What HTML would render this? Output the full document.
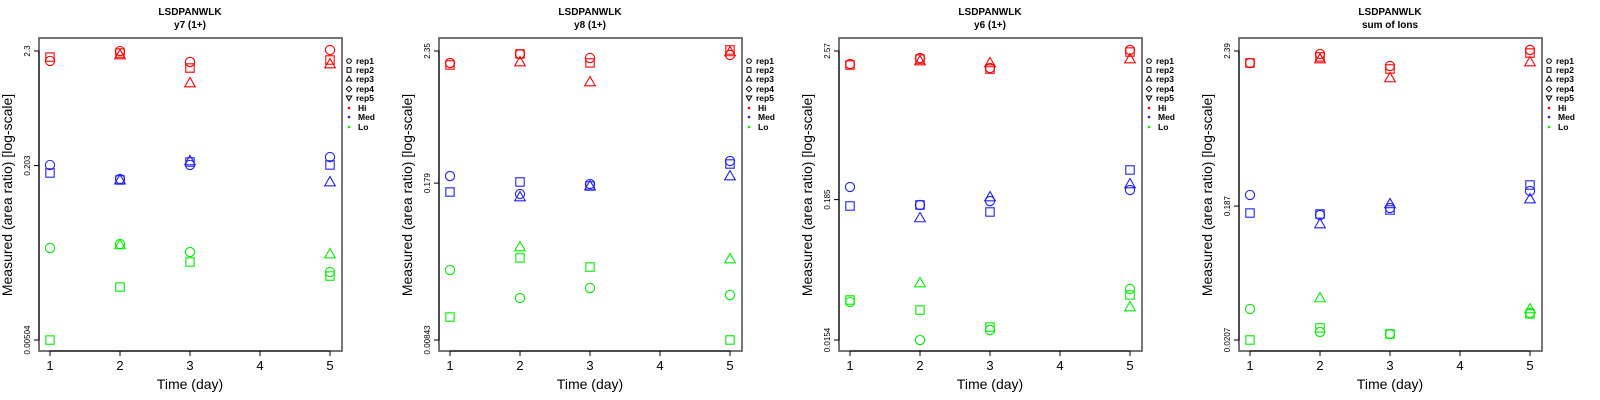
<!DOCTYPE html>
<html><head><meta charset="utf-8">
<style>
html,body{margin:0;padding:0;background:#fff;}
svg{display:block;font-family:"Liberation Sans",Arial,sans-serif;}
</style></head>
<body>
<svg id="chart" width="1600" height="400" viewBox="0 0 1600 400"></svg>
<script>
// Shared categories
const days = [1, 2, 3, 5];
const xTicks = [1, 2, 3, 4, 5];
const groups = ["Hi", "Med", "Lo"];
const reps = ["rep1", "rep2", "rep3"];
const legendLabels = ["rep1", "rep2", "rep3", "rep4", "rep5", "Hi", "Med", "Lo"];
const panelTitles = ["y7 (1+)", "y8 (1+)", "y6 (1+)", "sum of Ions"];
const yTickLabels = [["2.3", "0.203", "0.00504"], ["2.35", "0.179", "0.00843"], ["2.57", "0.185", "0.0154"], ["2.39", "0.187", "0.0207"]];
const yTickValues = [[2.3, 0.203, 0.00504], [2.35, 0.179, 0.00843], [2.57, 0.185, 0.0154], [2.39, 0.187, 0.0207]];
// log10(measured area ratio); per panel: [group][rep][day]
const p1Hi  = [[0.270, 0.362, 0.261, 0.371], [0.306, 0.343, 0.205, 0.279], [null, 0.325, 0.067, 0.242]];
const p1Med = [[-0.687, -0.816, -0.687, -0.614], [-0.761, -0.825, -0.660, -0.687], [null, -0.825, -0.650, -0.844]];
const p1Lo  = [[-1.451, -1.414, -1.488, -1.672], [-2.298, -1.810, -1.580, -1.709], [null, -1.423, null, -1.506]];
const p2Hi  = [[0.270, 0.346, 0.312, 0.337], [0.253, 0.346, 0.270, 0.380], [null, 0.278, 0.109, 0.363]];
const p2Med = [[-0.687, -0.839, -0.754, -0.560], [-0.822, -0.737, -0.771, -0.585], [null, -0.864, -0.771, -0.687]];
const p2Lo  = [[-1.482, -1.719, -1.634, -1.694], [-1.880, -1.380, -1.457, -2.074], [null, -1.287, null, -1.389]];
const p3Hi  = [[0.310, 0.356, 0.279, 0.418], [0.302, 0.348, 0.271, 0.402], [null, 0.333, 0.318, 0.348]];
const p3Med = [[-0.636, -0.774, -0.744, -0.659], [-0.782, -0.774, -0.828, -0.505], [null, -0.874, -0.713, -0.613]];
const p3Lo  = [[-1.520, -1.813, -1.736, -1.420], [-1.505, -1.582, -1.713, -1.466], [null, -1.374, null, -1.559]];
const p4Hi  = [[0.293, 0.357, 0.271, 0.386], [0.293, 0.336, 0.250, 0.364], [null, 0.321, 0.186, 0.300]];
const p4Med = [[-0.649, -0.792, -0.742, -0.621], [-0.778, -0.785, -0.756, -0.578], [null, -0.856, -0.713, -0.678]];
const p4Lo  = [[-1.463, -1.627, -1.641, -1.491], [-1.684, -1.598, -1.641, -1.498], [null, -1.384, null, -1.463]];
const panels = [[p1Hi, p1Med, p1Lo], [p2Hi, p2Med, p2Lo], [p3Hi, p3Med, p3Lo], [p4Hi, p4Med, p4Lo]];

const colors = {Hi: "#ff0000", Med: "#2020ff", Lo: "#00ee00"};
const NS = "http://www.w3.org/2000/svg";
const svg = document.getElementById("chart");
function mk(tag, attrs, parent) {
  const e = document.createElementNS(NS, tag);
  for (const k in attrs) e.setAttribute(k, attrs[k]);
  (parent || svg).appendChild(e);
  return e;
}
function marker(g, shape, cx, cy, col) {
  const r = 4.6;
  let e;
  if (shape === 0) e = mk("circle", {cx: cx, cy: cy, r: r, fill: "none", stroke: col, "stroke-width": 1.1}, g);
  else if (shape === 1) e = mk("rect", {x: cx - 4.2, y: cy - 4.2, width: 8.4, height: 8.4, fill: "none", stroke: col, "stroke-width": 1.1}, g);
  else e = mk("polygon", {points: `${cx},${cy - 5.5} ${cx - 5.3},${cy + 3.8} ${cx + 5.3},${cy + 3.8}`, fill: "none", stroke: col, "stroke-width": 1.1}, g);
  return e;
}

panels.forEach((pdata, pi) => {
  const ox = pi * 400;
  const g = mk("g", {transform: `translate(${ox},0)`});
  
  
  const L = 39, R = 342, T = 38, B = 351;
  const topV = Math.log10(yTickValues[pi][0]), botV = Math.log10(yTickValues[pi][2]);
  const yS = v => 51 + (topV - v) / (topV - botV) * 289;
  const xS = d => 50 + (d - 1) / 4 * 280;

  const t1 = mk("text", {x: 190, y: 15, "text-anchor": "middle", "font-size": 10, "font-weight": "bold", fill: "#000"}, g);
  t1.textContent = "LSDPANWLK";
  
  
  const t2 = mk("text", {x: 190, y: 28, "text-anchor": "middle", "font-size": 10, "font-weight": "bold", fill: "#000"}, g);
  t2.textContent = panelTitles[pi];
  
  

  const box = mk("rect", {x: L, y: T, width: R - L, height: B - T, fill: "none", stroke: "#555", "stroke-width": 1.6}, g);
  
  

  xTicks.forEach(d => {
    const x = xS(d);
    mk("line", {x1: x, y1: B, x2: x, y2: B + 5, stroke: "#000", "stroke-width": 1}, g);
    const tl = mk("text", {x: x, y: 370, "text-anchor": "middle", "font-size": 13, fill: "#000"}, g);
    tl.textContent = d;
    
    
  });
  mk("line", {x1: xS(1), y1: B, x2: xS(5), y2: B, stroke: "#000", "stroke-width": 1}, g);
  const xt = mk("text", {x: 190, y: 389, "text-anchor": "middle", "font-size": 14, fill: "#000"}, g);
  xt.textContent = "Time (day)";
  
  

  yTickValues[pi].forEach((v, i) => {
    const y = yS(Math.log10(v));
    mk("line", {x1: L - 5, y1: y, x2: L, y2: y, stroke: "#000", "stroke-width": 1}, g);
    const yl = mk("text", {x: 0, y: 0, "text-anchor": "middle", "font-size": 8, fill: "#000", transform: `translate(30,${y}) rotate(-90)`}, g);
    yl.textContent = yTickLabels[pi][i];
    
    
  });
  mk("line", {x1: L, y1: yS(topV), x2: L, y2: yS(botV), stroke: "#000", "stroke-width": 1}, g);
  const yt = mk("text", {x: 0, y: 0, "text-anchor": "middle", "font-size": 14, fill: "#000", transform: `translate(12,195) rotate(-90)`}, g);
  yt.textContent = "Measured (area ratio) [log-scale]";
  
  

  pdata.forEach((grp, gi) => {
    grp.forEach((series, ri) => {
      series.forEach((v, di) => {
        if (v === null) return;
        const m = marker(g, ri, xS(days[di]), yS(v), colors[groups[gi]]);
        
        
      });
    });
  });

  const lg = mk("g", {}, g);
  
  
  const rows = [61, 70, 79, 89, 98, 108, 117, 127];
  legendLabels.forEach((lab, i) => {
    const y = rows[i], sx = 349;
    if (i === 0) mk("circle", {cx: sx, cy: y, r: 2.3, fill: "none", stroke: "#000", "stroke-width": 1}, lg);
    else if (i === 1) mk("rect", {x: sx - 2, y: y - 2.3, width: 4, height: 4.6, fill: "none", stroke: "#000", "stroke-width": 1}, lg);
    else if (i === 2) mk("polygon", {points: `${sx},${y - 2.8} ${sx - 2.8},${y + 2} ${sx + 2.8},${y + 2}`, fill: "none", stroke: "#000", "stroke-width": 1}, lg);
    else if (i === 3) mk("polygon", {points: `${sx},${y - 2.8} ${sx - 2.8},${y} ${sx},${y + 2.8} ${sx + 2.8},${y}`, fill: "none", stroke: "#000", "stroke-width": 1}, lg);
    else if (i === 4) mk("polygon", {points: `${sx},${y + 2.8} ${sx - 2.8},${y - 2} ${sx + 2.8},${y - 2}`, fill: "none", stroke: "#000", "stroke-width": 1}, lg);
    else mk("circle", {cx: sx, cy: y, r: 1.3, fill: colors[lab]}, lg);
    const tx = mk("text", {x: i >= 5 ? 358 : 356, y: y + 3, "font-size": 8.5, "font-weight": "bold", fill: "#000"}, lg);
    tx.textContent = lab;
    
    
  });
});
</script>
</body></html>
